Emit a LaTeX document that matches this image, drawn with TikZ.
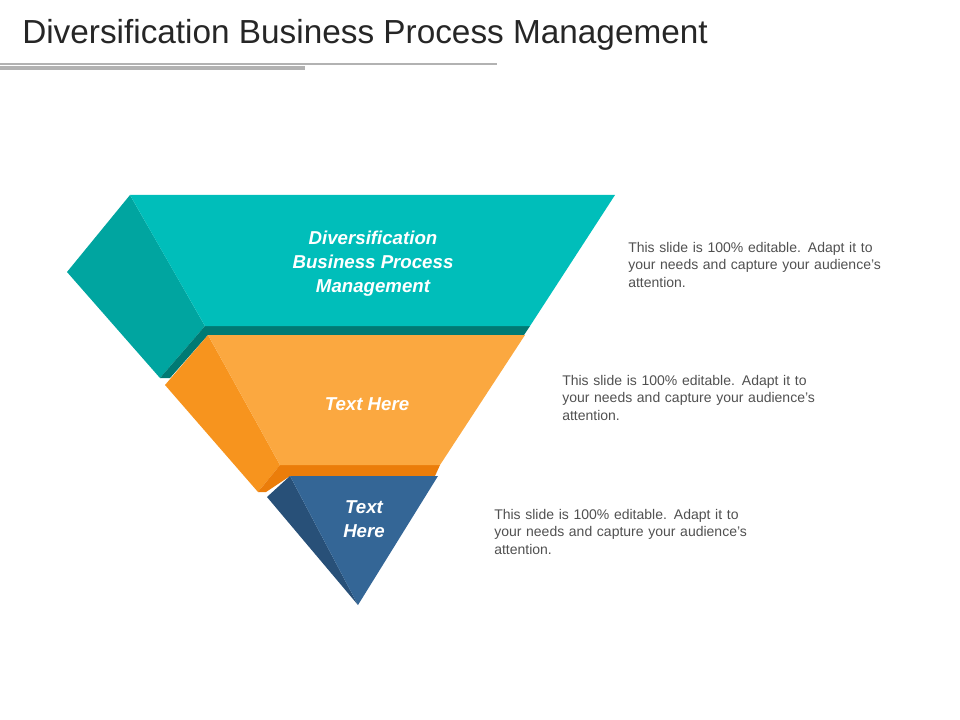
\documentclass[tikz,border=0pt]{standalone}
\usepackage{fontspec}
\setmainfont{Liberation Sans}
\usetikzlibrary{positioning}
\definecolor{tealtop}{RGB}{0,190,186}
\definecolor{tealside}{RGB}{0,165,160}
\definecolor{tealdark}{RGB}{0,122,116}
\definecolor{orangetop}{RGB}{251,168,64}
\definecolor{orangeside}{RGB}{247,148,30}
\definecolor{orangedark}{RGB}{235,125,10}
\definecolor{bluetop}{RGB}{52,102,150}
\definecolor{blueside}{RGB}{40,80,120}
\definecolor{bodygray}{RGB}{80,80,80}
\begin{document}
\begin{tikzpicture}[x=0.75pt, y=-0.75pt,
      label/.style={text=white, font=\bfseries\itshape\fontsize{14}{18}\selectfont, align=center},
      note/.style={text=bodygray, font=\fontsize{10.5}{13}\selectfont, align=left, anchor=north west, text width=200pt, inner sep=0pt}]
    \useasboundingbox (0,0) rectangle (960,720);
    % title
    \node (title) [anchor=west, inner sep=0pt, font=\fontsize{25}{30}\selectfont, text=black!85] at (22,35) {Diversification Business Process Management};
    \draw[gray!60, line width=1pt] (0,64) -- (497,64);
    \draw[gray!60, line width=2.5pt] (0,68) -- (305,68);
    % top layer
    \fill[tealside] (130,195) -- (67,272) -- (160,378) -- (205,326) -- cycle;
    \fill[tealdark] (160,378) -- (205,326) -- (530,326) -- (524,335) -- (208,335) -- (170,378) -- cycle;
    \fill[tealtop] (130,195) -- (615,195) -- (530,326) -- (205,326) -- cycle;
    % middle layer
    \fill[orangeside] (208,335) -- (165,385) -- (258,492) -- (280,465) -- cycle;
    \fill[orangedark] (258,492) -- (280,465) -- (440,465) -- (435,476) -- (290,476) -- (266,492) -- cycle;
    \fill[orangetop] (208,335) -- (525,335) -- (440,465) -- (280,465) -- cycle;
    % bottom layer
    \fill[blueside] (290,476) -- (267,497) -- (358,605) -- cycle;
    \fill[bluetop] (290,476) -- (438,476) -- (358,605) -- cycle;
    % labels
    \node (topLabel) [label] at (373,264) {Diversification\\Business Process\\Management};
    \node (midLabel) [label] at (367,404) {Text Here};
    \node (lowLabel) [label] at (364,519) {Text\\Here};
    % notes
    \node (topNote) [note] at (628,242) {This slide is 100\% editable. Adapt it to your needs and capture your audience's attention.};
    \node (midNote) [note] at (562,375) {This slide is 100\% editable. Adapt it to your needs and capture your audience's attention.};
    \node (lowNote) [note] at (494,509) {This slide is 100\% editable. Adapt it to your needs and capture your audience's attention.};
\end{tikzpicture}
\end{document}
